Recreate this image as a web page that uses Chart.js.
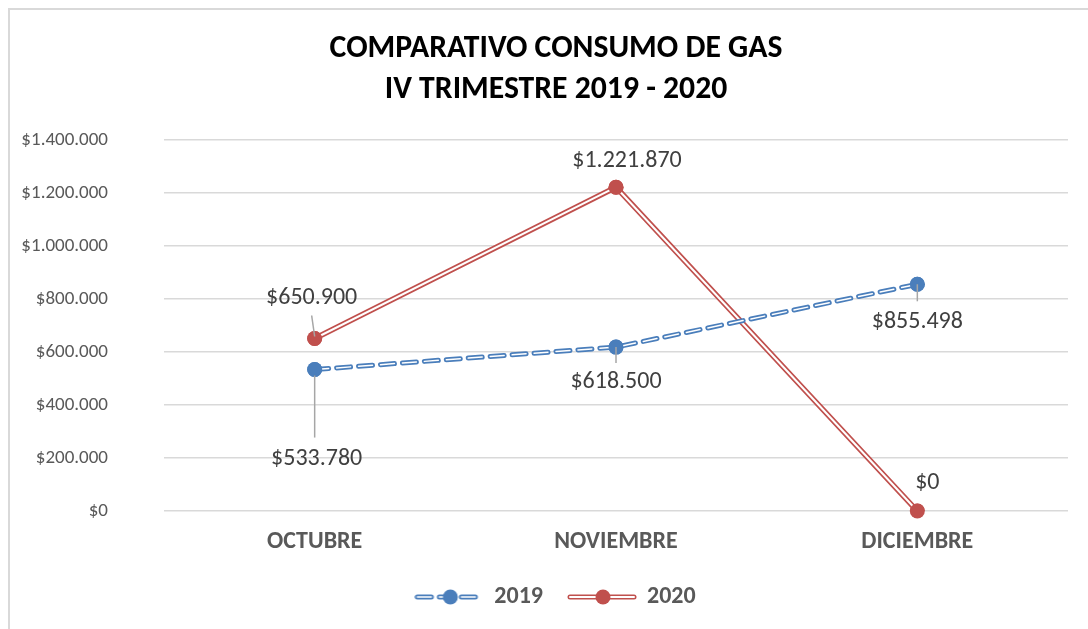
<!DOCTYPE html>
<html>
<head>
<meta charset="utf-8">
<script src="https://cdn.jsdelivr.net/npm/chart.js@4"></script>
<style>
	html, body { margin: 0; padding: 0; background: #ffffff; }
	#wrap { width: 1088px; height: 629px; }
</style>
</head>
<body>
<div id="wrap"><canvas id="gas-chart" width="1088" height="629"></canvas></div>
<script>
const months = ["OCTUBRE", "NOVIEMBRE", "DICIEMBRE"];
const gas2019 = [533780, 618500, 855498];
const gas2020 = [650900, 1221870, 0];
const seriesNames = ["2019", "2020"];
const titleLines = ["COMPARATIVO CONSUMO DE GAS", "IV TRIMESTRE 2019 - 2020"];
const yMax = 1400000;
const yStep = 200000;

const FONT = "Carlito, Calibri, Lato, sans-serif";
const BLUE = "#4a7ebb";
const RED = "#c0504d";

// label placement per series/point: offset from the marker, plus optional leader line (dy from, dy to)
const labelPlacement = [
	[{ dx: 2, dy: 89, lead: [6, 68] }, { dx: 0, dy: 35, lead: [0, 16] }, { dx: 0, dy: 38, lead: [0, 17] }],
	[{ dx: -3, dy: -41, lead: [-23, -2], leadDx: [-3, 0] }, { dx: 11, dy: -26 }, { dx: 10, dy: -28 }]
];

function money(v) {
	return "$" + String(Math.round(v)).replace(/\B(?=(\d{3})+(?!\d))/g, ".");
}

function legendSymbol(color, dashed) {
	const c = document.createElement("canvas");
	c.width = 70; c.height = 18;
	const g = c.getContext("2d");
	const y = 9;
	g.lineCap = "round";
	g.setLineDash(dashed ? [14, 8] : []);
	g.strokeStyle = color; g.lineWidth = 5;
	g.beginPath(); g.moveTo(3, y); g.lineTo(67, y); g.stroke();
	g.strokeStyle = "#ffffff"; g.lineWidth = dashed ? 1.5 : 2;
	g.beginPath(); g.moveTo(3, y); g.lineTo(67, y); g.stroke();
	g.setLineDash([]);
	g.fillStyle = color;
	g.beginPath(); g.arc(36, y, 7.5, 0, Math.PI * 2); g.fill();
	return c;
}

const frame = {
	id: "frame",
	beforeDraw(chart) {
		const ctx = chart.ctx;
		ctx.save();
		ctx.strokeStyle = "#d9d9d9";
		ctx.lineWidth = 2;
		ctx.beginPath();
		ctx.moveTo(9, 2000); ctx.lineTo(9, 9); ctx.lineTo(2000, 9);
		ctx.stroke();
		ctx.restore();
	},
	// the frame starts at x=9 and runs off the right edge, so title and legend sit a bit right of centre
	afterLayout(chart) {
		if (chart.titleBlock) chart.titleBlock.left += 24;
		if (chart.legend) chart.legend.left += 24;
	}
};

// white core stroke to get the "double line" look, then the markers again on top
const doubleLine = {
	id: "doubleLine",
	afterDatasetDraw(chart, args) {
		const meta = args.meta;
		const ds = chart.data.datasets[args.index];
		const ctx = chart.ctx;
		ctx.save();
		ctx.strokeStyle = "#ffffff";
		ctx.lineWidth = ds.coreWidth;
		ctx.lineCap = "round";
		ctx.lineJoin = "round";
		ctx.setLineDash(ds.borderDash || []);
		ctx.beginPath();
		meta.data.forEach((p, i) => i ? ctx.lineTo(p.x, p.y) : ctx.moveTo(p.x, p.y));
		ctx.stroke();
		ctx.restore();
		meta.data.forEach(p => p.draw(ctx, chart.chartArea));
	}
};

const dataLabels = {
	id: "dataLabels",
	afterDatasetsDraw(chart) {
		const ctx = chart.ctx;
		ctx.save();
		ctx.font = "24px " + FONT;
		ctx.textAlign = "center";
		ctx.textBaseline = "middle";
		chart.data.datasets.forEach((ds, di) => {
			chart.getDatasetMeta(di).data.forEach((p, i) => {
				const place = labelPlacement[di][i];
				if (place.lead) {
					const ldx = place.leadDx || [0, 0];
					ctx.strokeStyle = "#a6a6a6";
					ctx.lineWidth = 1.5;
					ctx.beginPath();
					ctx.moveTo(p.x + ldx[0], p.y + place.lead[0]);
					ctx.lineTo(p.x + ldx[1], p.y + place.lead[1]);
					ctx.stroke();
				}
				ctx.fillStyle = "#404040";
				ctx.fillText(money(ds.data[i]), p.x + place.dx, p.y + place.dy);
			});
		});
		ctx.restore();
	}
};

new Chart(document.getElementById("gas-chart"), {
	type: "line",
	data: {
		labels: months,
		datasets: [
			{
				label: seriesNames[0],
				data: gas2019,
				borderColor: BLUE,
				backgroundColor: BLUE,
				borderWidth: 5,
				borderDash: [14, 8],
				borderCapStyle: "round",
				coreWidth: 1.5,
				pointRadius: 7.5,
				pointBorderWidth: 0,
				pointBackgroundColor: BLUE,
				legendSymbol: legendSymbol(BLUE, true),
				tension: 0
			},
			{
				label: seriesNames[1],
				data: gas2020,
				borderColor: RED,
				backgroundColor: RED,
				borderWidth: 5.5,
				borderCapStyle: "round",
				coreWidth: 2,
				pointRadius: 7.5,
				pointBorderWidth: 0,
				pointBackgroundColor: RED,
				legendSymbol: legendSymbol(RED, false),
				tension: 0
			}
		]
	},
	options: {
		responsive: false,
		animation: false,
		devicePixelRatio: 1,
		layout: { padding: { left: 20, right: 20, top: 0, bottom: 10 } },
		plugins: {
			title: {
				display: true,
				text: titleLines,
				color: "#000000",
				font: { family: FONT, size: 31.7, weight: "bold", lineHeight: 41 / 31.7 },
				padding: { top: 29, bottom: 29 }
			},
			legend: {
				position: "bottom",
				labels: {
					usePointStyle: true,
					pointStyleWidth: 66,
					color: "#595959",
					font: { family: FONT, size: 24, weight: "bold" },
					padding: 26,
					generateLabels: chart => chart.data.datasets.map((ds, i) => ({
						text: ds.label,
						pointStyle: ds.legendSymbol,
						fontColor: "#595959",
						lineWidth: 0,
						strokeStyle: "transparent",
						fillStyle: ds.borderColor,
						datasetIndex: i
					}))
				}
			},
			tooltip: { enabled: false }
		},
		scales: {
			x: {
				offset: true,
				grid: { display: false },
				border: { display: false },
				afterFit: s => { s.height = 48; },
				ticks: {
					color: "#595959",
					padding: 9,
					font: { family: FONT, size: 24, weight: "bold" }
				}
			},
			y: {
				min: 0,
				max: yMax,
				grid: { color: "#d9d9d9", lineWidth: 1.5, drawTicks: false },
				border: { display: false },
				afterFit: s => { s.width = 144; },
				ticks: {
					stepSize: yStep,
					color: "#595959",
					padding: 56,
					font: { family: FONT, size: 19 },
					callback: v => money(v)
				}
			}
		}
	},
	plugins: [frame, doubleLine, dataLabels]
});
</script>
</body>
</html>
